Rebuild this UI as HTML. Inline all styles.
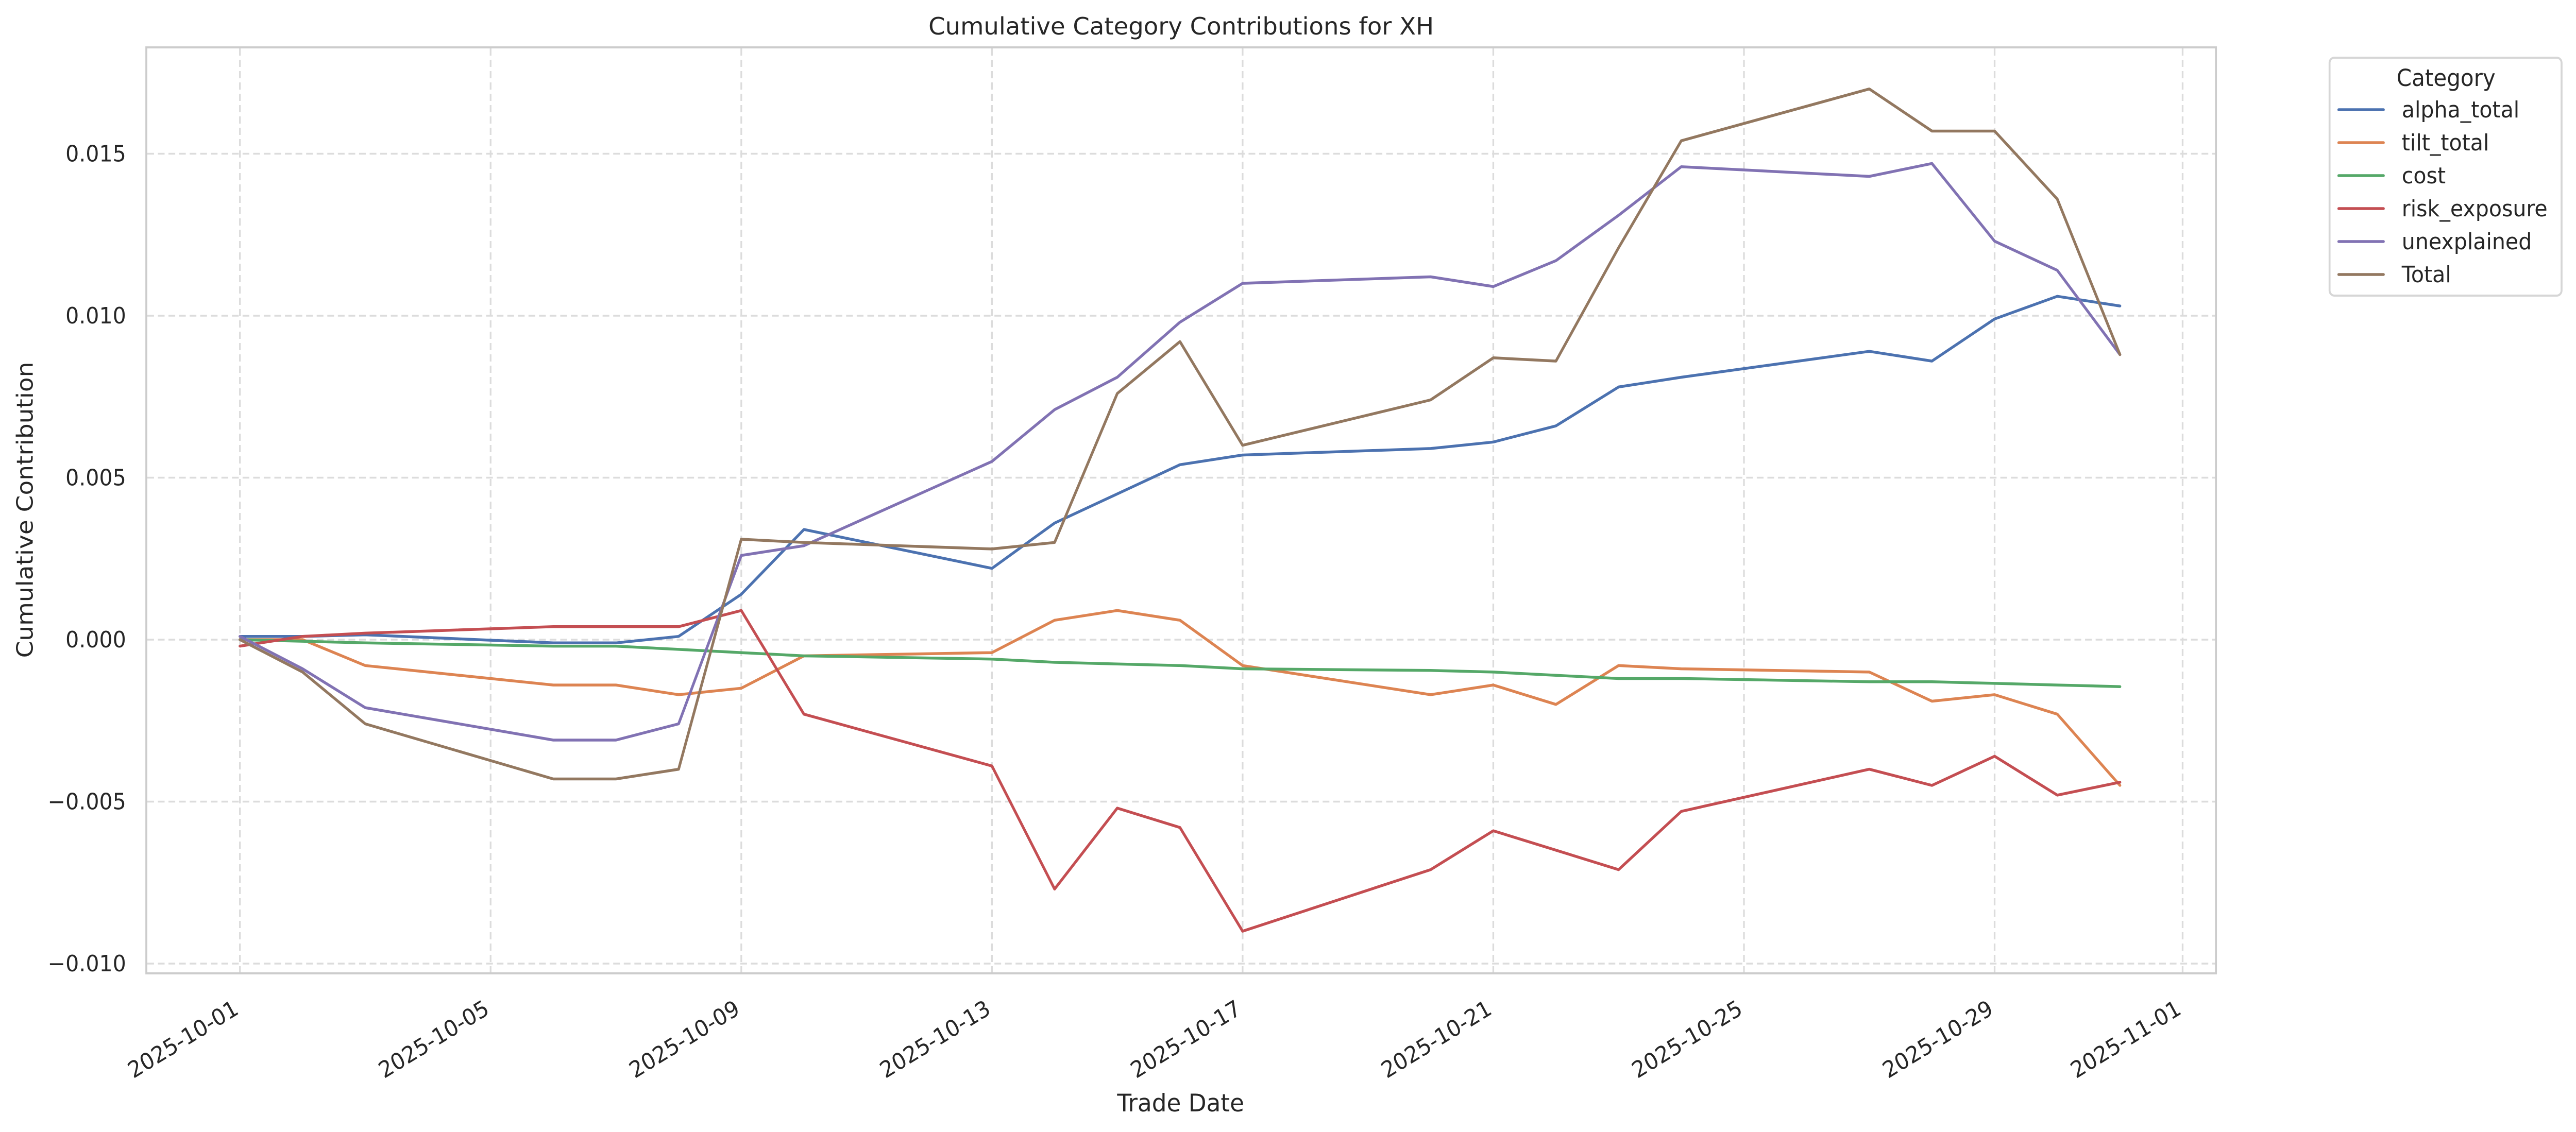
<!DOCTYPE html>
<html><head><meta charset="utf-8"><style>
html,body{margin:0;padding:0;background:#fff;width:100%;height:100%;overflow:hidden;}
svg{display:block;width:100vw;height:100vh;}
text{font-family:"DejaVu Sans","Liberation Sans",sans-serif;fill:#262626;}
</style></head><body>
<svg id="s" viewBox="0 0 5352 2198" preserveAspectRatio="none" xmlns="http://www.w3.org/2000/svg">
<rect width="5352" height="2198" fill="#fff"/>
<g id="grid" stroke="#dcdcdc" stroke-width="3.5" stroke-dasharray="14,8" fill="none"></g>
<g id="series" fill="none" stroke-width="5.5" stroke-linejoin="round" stroke-linecap="round"></g>
<rect x="304" y="92" width="4300" height="1798" fill="none" stroke="#cccccc" stroke-width="4"/>
<g id="labels" font-size="44"></g>
<text x="2454" y="67" font-size="46" text-anchor="middle" textLength="1050" lengthAdjust="spacingAndGlyphs">Cumulative Category Contributions for XH</text>
<text x="2453" y="2158" font-size="47" text-anchor="middle" textLength="264" lengthAdjust="spacingAndGlyphs">Trade Date</text>
<text transform="translate(68,990) rotate(-90)" font-size="47" text-anchor="middle">Cumulative Contribution</text>
<g id="legend">
<rect x="4840" y="112" width="482" height="462" rx="10" fill="#fff" stroke="#d6d6d6" stroke-width="4"/>
<text x="5082" y="167" font-size="45" text-anchor="middle">Category</text>
</g>
</svg>
<script>
var NS="http://www.w3.org/2000/svg";
function el(p,t,a,txt){var e=document.createElementNS(NS,t);for(var k in a)e.setAttribute(k,a[k]);if(txt!=null)e.textContent=txt;p.appendChild(e);return e;}
function X(d){return 498.5+130.2*(d-1);}
function Y(v){return 1242-v*62900;}
var grid=document.getElementById('grid'),lab=document.getElementById('labels');
[0.015,0.010,0.005,0,-0.005,-0.010].forEach(function(v){
  el(grid,'line',{x1:306,x2:4602,y1:Y(v),y2:Y(v)});
  var s=(v<0?'\u22120':'0')+'.'+('00'+Math.round(Math.abs(v)*1000)).slice(-3);
  if(v===0)s='0.000';
  el(lab,'text',{x:262,y:Y(v)+15,'text-anchor':'end'},s);
});
var ticks=[[1,'2025-10-01'],[5,'2025-10-05'],[9,'2025-10-09'],[13,'2025-10-13'],[17,'2025-10-17'],[21,'2025-10-21'],[25,'2025-10-25'],[29,'2025-10-29'],[32,'2025-11-01']];
ticks.forEach(function(t){var x=X(t[0]);
  el(grid,'line',{x1:x,x2:x,y1:94,y2:1888});
  el(lab,'text',{transform:'translate('+x+',1967) rotate(-30)','text-anchor':'end'},t[1]);
});
var days=[1,2,3,6,7,8,9,10,13,14,15,16,17,20,21,22,23,24,27,28,29,30,31];
var S=[
['alpha_total','#4c72b0',[0.0001,0.0001,0.00015,-0.0001,-0.0001,0.0001,0.0014,0.0034,0.0022,0.0036,0.0045,0.0054,0.0057,0.0059,0.0061,0.0066,0.0078,0.0081,0.0089,0.0086,0.0099,0.0106,0.0103]],
['tilt_total','#dd8452',[0,0.0000,-0.0008,-0.0014,-0.0014,-0.0017,-0.0015,-0.0005,-0.0004,0.0006,0.0009,0.0006,-0.0008,-0.0017,-0.0014,-0.0020,-0.0008,-0.0009,-0.0010,-0.0019,-0.0017,-0.0023,-0.0045]],
['cost','#55a868',[0,-0.00005,-0.0001,-0.0002,-0.0002,-0.0003,-0.0004,-0.0005,-0.0006,-0.0007,-0.00075,-0.0008,-0.0009,-0.00095,-0.001,-0.0011,-0.0012,-0.0012,-0.0013,-0.0013,-0.00135,-0.0014,-0.00145]],
['risk_exposure','#c44e52',[-0.0002,0.0001,0.0002,0.0004,0.0004,0.0004,0.0009,-0.0023,-0.0039,-0.0077,-0.0052,-0.0058,-0.0090,-0.0071,-0.0059,-0.0065,-0.0071,-0.0053,-0.0040,-0.0045,-0.0036,-0.0048,-0.0044]],
['unexplained','#8172b3',[0.0001,-0.0009,-0.0021,-0.0031,-0.0031,-0.0026,0.0026,0.0029,0.0055,0.0071,0.0081,0.0098,0.0110,0.0112,0.0109,0.0117,0.0131,0.0146,0.0143,0.0147,0.0123,0.0114,0.0088]],
['Total','#937860',[0,-0.0010,-0.0026,-0.0043,-0.0043,-0.0040,0.0031,0.0030,0.0028,0.0030,0.0076,0.0092,0.0060,0.0074,0.0087,0.0086,0.0121,0.0154,0.0170,0.0157,0.0157,0.0136,0.0088]]
];
var ser=document.getElementById('series'),leg=document.getElementById('legend');
S.forEach(function(s,i){
  var pts=s[2].map(function(v,j){return X(days[j]).toFixed(1)+','+Y(v).toFixed(1);}).join(' ');
  el(ser,'polyline',{points:pts,stroke:s[1]});
  var y=213+i*64;
  el(leg,'line',{x1:4859,x2:4952,y1:y,y2:y,stroke:s[1],'stroke-width':5.5,'stroke-linecap':'round'});
  el(leg,'text',{x:4990,y:y+15,'font-size':44},s[0]);
});
</script>
</body></html>
